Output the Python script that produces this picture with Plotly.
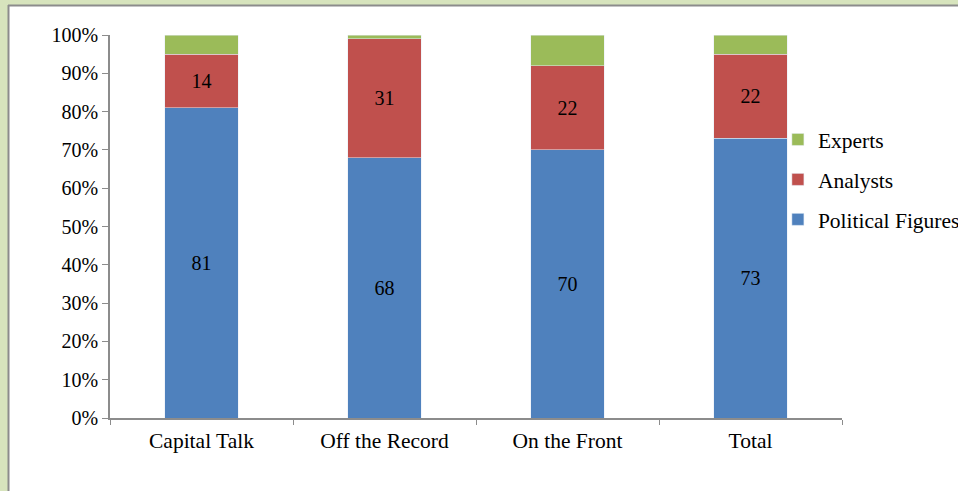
import plotly.graph_objects as go

categories = ["Capital Talk", "Off the Record", "On the Front", "Total"]
political = [81, 68, 70, 73]
analysts = [14, 31, 22, 22]
experts = [5, 1, 8, 5]
y_ticks = [0, 10, 20, 30, 40, 50, 60, 70, 80, 90, 100]
y_tick_labels = [f"{v}%" for v in y_ticks]

FONT = "Liberation Serif, Times New Roman, serif"
W, H = 958, 491
L, R, T, B = 110, 116, 35, 73
PW, PH = W - L - R, H - T - B

def px_x(px):
    return (px - L) / PW

def px_y(py):
    return (H - B - py) / PH

fig = go.Figure()
fig.add_bar(x=categories, y=political, name="Political Figures",
            marker_color="#4F81BD", legendgroup="p", legendrank=3,
            text=[str(v) for v in political], textposition="inside",
            insidetextanchor="middle", textangle=0,
            textfont=dict(family=FONT, size=20, color="black"))
fig.add_bar(x=categories, y=analysts, name="Analysts",
            marker_color="#C0504D", legendgroup="a", legendrank=2,
            text=[str(v) for v in analysts], textposition="inside",
            insidetextanchor="middle", textangle=0,
            textfont=dict(family=FONT, size=20, color="black"))
fig.add_bar(x=categories, y=experts, name="Experts",
            marker_color="#9BBB59", legendgroup="e", legendrank=1,
            textposition="none")

shapes = [
    dict(type="rect", xref="paper", yref="paper", x0=px_x(-5), x1=px_x(W + 5),
         y0=px_y(5), y1=px_y(-5), fillcolor="#D7E4BD", line_width=0),
    dict(type="rect", xref="paper", yref="paper", x0=px_x(-5), x1=px_x(8),
         y0=px_y(H + 5), y1=px_y(-5), fillcolor="#D7E4BD", line_width=0),
    dict(type="line", xref="paper", yref="paper", x0=px_x(8), x1=px_x(W + 5),
         y0=px_y(5.5), y1=px_y(5.5), line=dict(color="#8C8C8C", width=2)),
    dict(type="line", xref="paper", yref="paper", x0=px_x(8.5), x1=px_x(8.5),
         y0=px_y(5), y1=px_y(H + 5), line=dict(color="#8C8C8C", width=2)),
]

fig.update_layout(
    width=W, height=H,
    margin=dict(l=L, r=R, t=T, b=B, autoexpand=False),
    barmode="stack", bargap=0.6,
    paper_bgcolor="white", plot_bgcolor="white",
    font=dict(family=FONT, size=20, color="black"),
    shapes=shapes,
    showlegend=True,
    legend=dict(xref="container", yref="container", x=0.812, y=0.7577,
                xanchor="left", yanchor="top", traceorder="grouped",
                tracegroupgap=9, itemwidth=30,
                font=dict(family=FONT, size=21.5, color="black"),
                bgcolor="rgba(0,0,0,0)"),
    xaxis=dict(showline=True, linecolor="#8C8C8C", linewidth=1.5,
               ticks="outside", tickson="boundaries", ticklen=5,
               tickcolor="#8C8C8C", tickfont=dict(size=21.5), showgrid=False,
               ticklabelstandoff=2),
    yaxis=dict(range=[0, 100], tickvals=y_ticks, ticktext=y_tick_labels,
               showline=True, linecolor="#8C8C8C", linewidth=1.5,
               ticks="outside", ticklen=6, tickcolor="#8C8C8C",
               showgrid=False, zeroline=False, tickfont=dict(size=20)),
)

fig.write_html(
    "out.html",
    config={"displayModeBar": False},
    post_script="document.body.style.margin='0';document.body.style.overflow='hidden';",
)
